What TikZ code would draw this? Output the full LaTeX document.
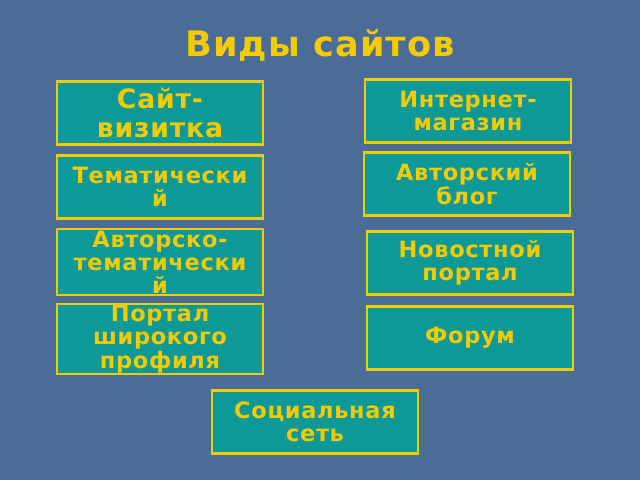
\documentclass[tikz,border=0pt]{standalone}
\usepackage{fontspec}
\setmainfont{DejaVu Sans}[LetterSpace=3]
\definecolor{bgblue}{HTML}{4B6C99}
\definecolor{boxteal}{HTML}{0E9896}
\definecolor{goldline}{HTML}{F0CC00}
\definecolor{goldtext}{HTML}{F2CB00}
\tikzset{
  sitebox/.style={draw=goldline, line width=1.8pt, fill=boxteal, text=goldtext,
    font=\bfseries\fontsize{16}{16.5}\selectfont, align=center,
    minimum width=5.15cm, minimum height=1.58cm, inner sep=1pt},
}
\begin{document}
\begin{tikzpicture}[x=0.025cm,y=-0.025cm]
  % Fon
  \fill[bgblue] (0,0) rectangle (640,480);
  \useasboundingbox (0,0) rectangle (640,480);

  % Zagolovok
  \node[text=goldtext, font=\bfseries\fontsize{25}{28}\selectfont] (title) at (320,45) {Виды сайтов};

  % Levaya kolonka
  \node[sitebox, font=\bfseries\fontsize{19}{21}\selectfont] (vizit) at (160,113) {Сайт-\\визитка};
  \node[sitebox] (temat) at (160,187) {Тематически\\й};
  \node[sitebox] (avtemat) at (160,262) {Авторско-\\тематически\\й};
  \node[sitebox] (portal) at (160,339) {Портал\\широкого\\профиля};

  % Pravaya kolonka
  \node[sitebox] (magazin) at (468,111) {Интернет-\\магазин};
  \node[sitebox] (blog) at (467,184) {Авторский\\блог};
  \node[sitebox] (novost) at (470,263) {Новостной\\портал};
  \node[sitebox] (forum) at (470,338) {Форум};

  % Vnizu
  \node[sitebox] (socset) at (315,422) {Социальная\\сеть};
\end{tikzpicture}
\end{document}
